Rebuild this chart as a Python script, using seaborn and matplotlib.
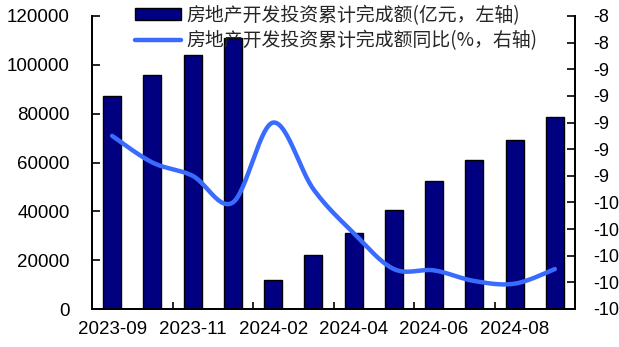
import numpy as np
import pandas as pd
import matplotlib
matplotlib.use("Agg")
import matplotlib.pyplot as plt
from matplotlib.patches import Patch
from matplotlib.lines import Line2D
import seaborn as sns

# Monthly data
months = ["2023-09", "2023-10", "2023-11", "2023-12", "2024-02", "2024-03",
          "2024-04", "2024-05", "2024-06", "2024-07", "2024-08", "2024-09"]
investment = [87269, 95922, 104045, 110913, 11842, 22082,
              30928, 40632, 52529, 60877, 69284, 78680]
yoy = [-9.0, -9.2, -9.3, -9.5, -8.9, -9.4,
       -9.73, -10.0, -10.01, -10.09, -10.11, -10.0]

left_ticks = [0, 20000, 40000, 60000, 80000, 100000, 120000]
right_ticks = [-10.3, -10.1, -9.9, -9.7, -9.5, -9.3, -9.1, -8.9, -8.7, -8.5, -8.3, -8.1]
right_labels = ["-10", "-10", "-10", "-10", "-10", "-9", "-9", "-9", "-9", "-9", "-8", "-8"]

bar_label = "房地产开发投资累计完成额(亿元，左轴)"
line_label = "房地产开发投资累计完成额同比(%，右轴)"

NAVY = "#000080"
BLUE = "#3a6bff"

sns.set_theme(style="white")
plt.rcParams["font.family"] = ["Liberation Sans", "Noto Sans CJK SC", "DejaVu Sans"]


def smooth_curve(xs, ys, n=30):
    """Cubic Bezier smoothing through every point (Catmull-Rom tangents)."""
    pts = np.column_stack([xs, ys]).astype(float)
    padded = np.vstack([pts[0], pts, pts[-1]])
    t = np.linspace(0, 1, n)[:, None]
    parts = []
    for i in range(len(pts) - 1):
        p0, p1, p2, p3 = padded[i], padded[i + 1], padded[i + 2], padded[i + 3]
        c1 = p1 + (p2 - p0) / 6
        c2 = p2 - (p3 - p1) / 6
        seg = ((1 - t) ** 3) * p1 + 3 * ((1 - t) ** 2) * t * c1 \
            + 3 * (1 - t) * t ** 2 * c2 + t ** 3 * p2
        parts.append(seg if i == 0 else seg[1:])
    curve = np.vstack(parts)
    return curve[:, 0], curve[:, 1]


W, H = 619, 347
fig = plt.figure(figsize=(W / 100, H / 100), dpi=100)
ax = fig.add_axes([92 / W, 38 / H, 483 / W, 293 / H])

df = pd.DataFrame({"month": months, "investment": investment})
sns.barplot(data=df, x="month", y="investment", ax=ax, color=NAVY,
            saturation=1, width=0.45, edgecolor="black", linewidth=1.0)

ax.set_xlim(-0.5, len(months) - 0.5)
ax.set_ylim(0, 120000)
ax.set_yticks(left_ticks)
ax.set_yticklabels([str(v) for v in left_ticks])
ax.set_xlabel("")
ax.set_ylabel("")

# labels on every other month, tick marks on the group boundaries
ax.set_xticks(range(0, len(months), 2))
ax.set_xticklabels(months[::2])
ax.set_xticks(np.arange(1.5, len(months) - 1, 2), minor=True)
ax.tick_params(axis="x", which="major", length=0, pad=9, labelsize=13.5, colors="black")
ax.tick_params(axis="x", which="minor", direction="in", length=5, width=1.2,
               color="black", bottom=True)
ax.tick_params(axis="y", direction="in", length=6, width=1.2, pad=16,
               labelsize=13.5, colors="black", left=True)

ax2 = ax.twinx()
xs, ys = smooth_curve(np.arange(len(yoy)), yoy)
sns.lineplot(x=xs, y=ys, ax=ax2, sort=False, color=BLUE, linewidth=3.2)
ax2.set_ylim(-10.3, -8.1)
ax2.set_yticks(right_ticks)
ax2.set_yticklabels(right_labels)
ax2.tick_params(axis="y", direction="in", length=6, width=1.2, pad=13,
                labelsize=13, colors="black", right=True)
ax2.set_ylabel("")

for a in (ax, ax2):
    a.grid(False)
    a.spines["top"].set_visible(False)
    for s in ("left", "right", "bottom"):
        a.spines[s].set_color("black")
        a.spines[s].set_linewidth(1.3)

handles = [Patch(facecolor=NAVY, edgecolor="black", linewidth=1.0),
           Line2D([0], [0], color=BLUE, linewidth=3.2)]
fig.legend(handles, [bar_label, line_label], loc="upper left",
           bbox_to_anchor=(131 / W, 1 - 1 / H), frameon=False,
           prop={"family": ["Noto Sans CJK SC", "DejaVu Sans"], "size": 13.6},
           handlelength=2.45, handleheight=0.55, handletextpad=0.3,
           labelspacing=0.25, borderpad=0.2, borderaxespad=0)

fig.savefig("out.png", dpi=100, facecolor="white")
